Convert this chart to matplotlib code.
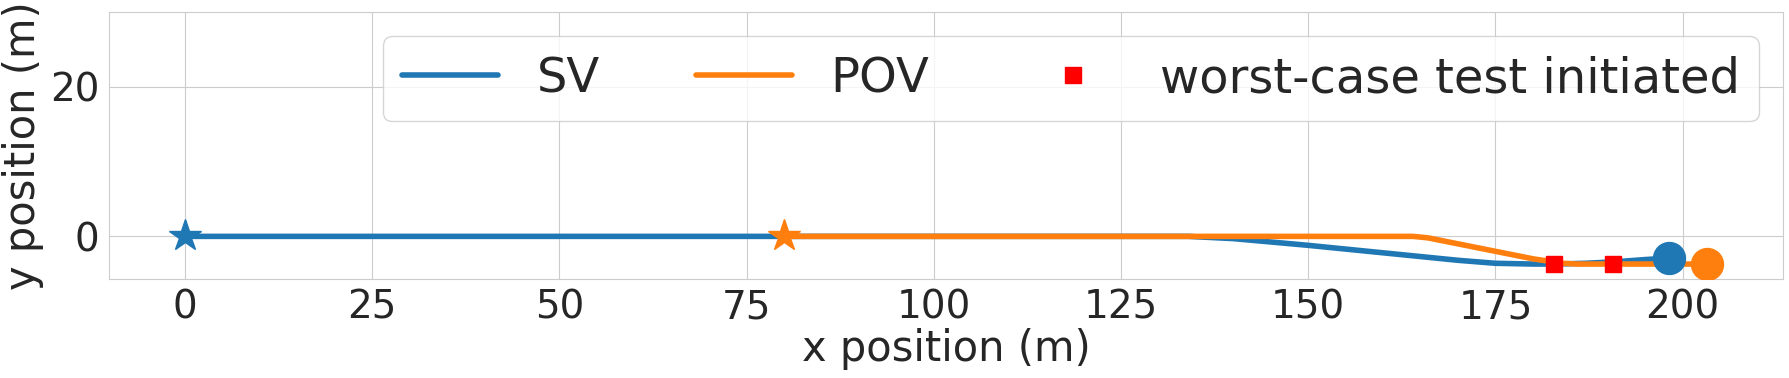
import matplotlib
matplotlib.use("Agg")
import matplotlib.pyplot as plt
import seaborn as sns

sns.set_style("whitegrid")

# trajectories (m)
sv_x = [0, 40, 80, 120, 134, 140, 150, 160, 170, 175, 180, 183, 187, 191, 195, 198.2]
sv_y = [0, 0, 0, 0, 0, -0.3, -1.2, -2.2, -3.2, -3.6, -3.7, -3.7, -3.6, -3.4, -3.1, -2.9]

pov_x = [80, 100, 120, 140, 160, 164, 166, 170, 175, 180, 184, 186, 190, 195, 200, 203.2]
pov_y = [0, 0, 0, 0, 0, 0, -0.2, -1.0, -2.0, -3.0, -3.6, -3.7, -3.7, -3.7, -3.7, -3.7]

# worst-case test initiated
test_x = [182.8, 190.7]
test_y = [-3.75, -3.75]

fig = plt.figure(figsize=(17.9, 3.78), dpi=100)
ax = fig.add_axes([109 / 1790, 1 - 279 / 378, (1783 - 109) / 1790, (279 - 12) / 378])

ax.plot(sv_x, sv_y, color="#1f77b4", lw=4, label="SV")
ax.plot(pov_x, pov_y, color="#ff7f0e", lw=4, label="POV")
ax.plot(test_x, test_y, "s", color="red", markersize=12, ls="none",
        label="worst-case test initiated", zorder=4)

ax.plot(sv_x[0], sv_y[0], "*", color="#1f77b4", markersize=24, zorder=5)
ax.plot(pov_x[0], pov_y[0], "*", color="#ff7f0e", markersize=24, zorder=5)
ax.plot(sv_x[-1], sv_y[-1], "o", color="#1f77b4", markersize=23, zorder=5)
ax.plot(pov_x[-1], pov_y[-1], "o", color="#ff7f0e", markersize=23, zorder=5)

ax.set_xlim(-10.15, 213.4)
ax.set_ylim(-5.7, 30)
ax.set_xticks([0, 25, 50, 75, 100, 125, 150, 175, 200])
ax.set_yticks([0, 20])
ax.tick_params(labelsize=28)
ax.set_xlabel("x position (m)", fontsize=30, labelpad=1)
ax.set_ylabel("y position (m)", fontsize=30, labelpad=4)

ax.legend(ncol=3, fontsize=34.6, loc="upper right", bbox_to_anchor=(0.9857, 0.91),
          borderaxespad=0)

fig.savefig("out.png", dpi=100)
